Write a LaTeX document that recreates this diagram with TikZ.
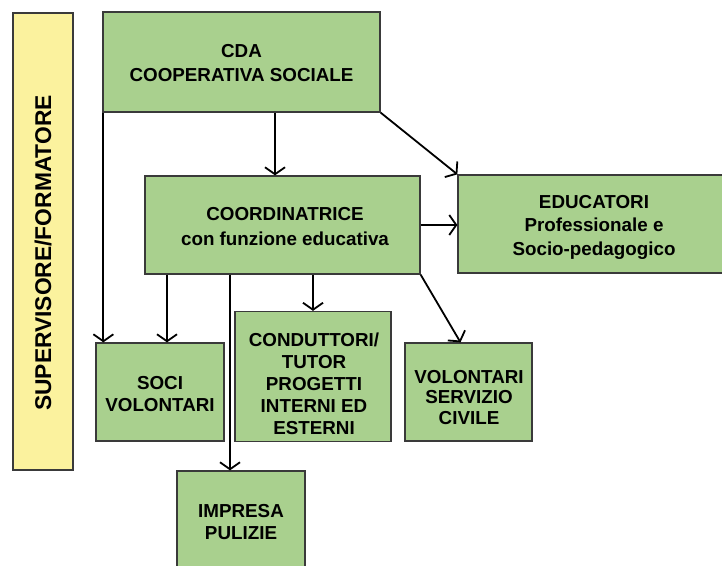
\documentclass[tikz,border=0pt]{standalone}
\usepackage{fontspec}
\setmainfont{Liberation Sans}
\usepackage{xcolor}
\usetikzlibrary{arrows.meta,positioning}
\definecolor{boxgreen}{HTML}{A9D08E}
\definecolor{boxyellow}{HTML}{FBF29E}
\definecolor{boxline}{HTML}{3A3A3A}
\tikzset{
  ruolo/.style={draw=boxline, line width=1.3pt, fill=boxgreen, inner sep=0pt},
  testo/.style={align=center, inner sep=0pt, font=\fontsize{18.8}{22}\selectfont\bfseries}
}

\begin{document}
\begin{tikzpicture}[x=1pt,y=-1pt,->,>={Straight Barb[length=7pt,width=20pt]},line width=1.8pt]
        \useasboundingbox (0,0) rectangle (722,565);
        % boxes
        \node[ruolo, fill=boxyellow, minimum width=60pt, minimum height=457pt] (sup) at (43,241.5) {};
        \node[ruolo, minimum width=277pt, minimum height=100pt] (cda) at (241.5,62) {};
        \node[ruolo, minimum width=275pt, minimum height=98pt] (coord) at (282.5,225) {};
        \node[ruolo, minimum width=268pt, minimum height=98pt] (edu) at (592,224) {};
        \node[ruolo, minimum width=128pt, minimum height=98pt] (soci) at (160,392) {};
        \node[ruolo, minimum width=156pt, minimum height=130pt] (cond) at (313,376.5) {};
        \node[ruolo, minimum width=127pt, minimum height=98pt] (vol) at (468.5,392) {};
        \node[ruolo, minimum width=128pt, minimum height=98pt] (imp) at (241,520) {};
        % texts
        \node[testo, rotate=90, font=\fontsize{22.8}{27}\selectfont\bfseries] (supT) at (43,253) {SUPERVISORE/FORMATORE};
        \node[testo, font=\fontsize{18.8}{24}\selectfont\bfseries] (cdaT) at (241.5,63) {CDA\\COOPERATIVA SOCIALE};
        \node[testo, font=\fontsize{18.8}{25}\selectfont\bfseries] (coordT) at (285,227) {COORDINATRICE\\con funzione educativa};
        \node[testo, font=\fontsize{18.8}{23.5}\selectfont\bfseries] (eduT) at (594,227) {EDUCATORI\\Professionale e\\Socio-pedagogico};
        \node[testo] (sociT) at (160,394) {SOCI\\VOLONTARI};
        \node[testo] (condT) at (314,383.5) {CONDUTTORI/\\TUTOR\\PROGETTI\\INTERNI ED\\ESTERNI};
        \node[testo, font=\fontsize{18.8}{20.7}\selectfont\bfseries] (volT) at (469,397.5) {VOLONTARI\\SERVIZIO\\CIVILE};
        \node[testo] (impT) at (241,522.5) {IMPRESA\\PULIZIE};
        % arrows
        \path ([xshift=1pt]cda.south west) edge ([xshift=1pt]cda.south west |- soci.north);
        \path ([xshift=-7.5pt]coord.north |- cda.south) edge ([xshift=-7.5pt]coord.north);
        \path (cda.south east) edge (edu.north west);
        \path (coord.east) edge (coord.east -| edu.west);
        \path ([xshift=7pt]soci.north |- coord.south) edge ([xshift=7pt]soci.north);
        \path ([xshift=-11pt]imp.north |- coord.south) edge ([xshift=-11pt]imp.north);
        \path (cond.north |- coord.south) edge (cond.north);
        \path (coord.south east) edge ([xshift=-8pt]vol.north);
    \end{tikzpicture}
\end{document}
